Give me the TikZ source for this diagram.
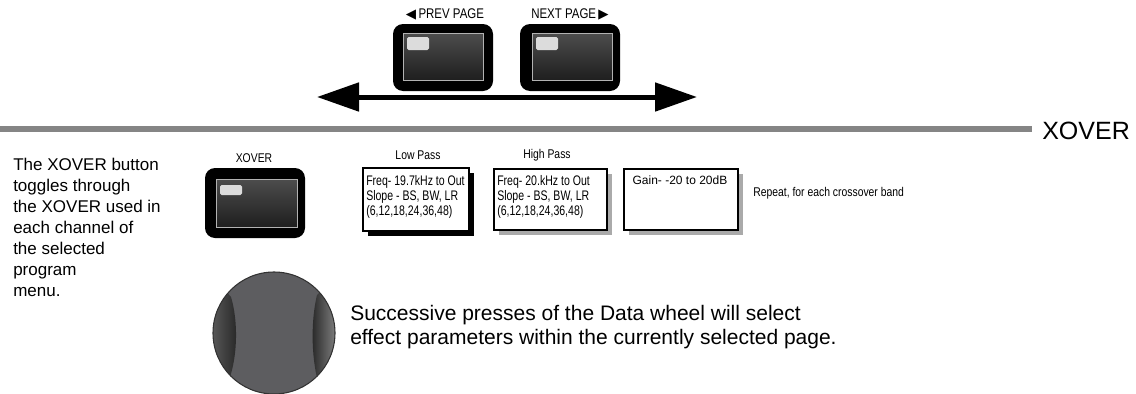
\documentclass[tikz,border=0pt]{standalone}
\usepackage{fontspec}
\setmainfont{Liberation Sans}
\newfontfamily\narrow[FakeStretch=0.82]{Liberation Sans}
\newfontfamily\boxfont[FakeStretch=0.76]{Liberation Sans}
\newfontfamily\sym{DejaVu Sans}
\usepackage{xcolor}
\definecolor{bargray}{HTML}{858585}
\definecolor{padgray}{HTML}{DCDCDC}
\definecolor{knobgray}{HTML}{5D5D60}
\definecolor{shadegray}{HTML}{AAAAAA}
\usetikzlibrary{arrows.meta}
\usetikzlibrary{calc}
\usetikzlibrary{positioning}
\usetikzlibrary{shadows}

\tikzset{
  bezel/.style={fill=black, rounded corners=7.5pt, minimum width=75pt, minimum height=50.25pt, inner sep=0pt},
  face/.style={draw=gray!60, line width=0.4pt, top color=black!70, bottom color=black!88, minimum width=60pt, minimum height=35.25pt, inner sep=0pt},
  pad/.style={fill=padgray, rounded corners=1.2pt, minimum width=16.5pt, minimum height=9.75pt, inner sep=0pt},
  btnlabel/.style={font=\narrow\fontsize{10.5pt}{12pt}\selectfont, inner sep=0pt},
  smalllabel/.style={font=\narrow\fontsize{9.5pt}{11pt}\selectfont, inner sep=0pt},
  parambox/.style={draw, line width=1.5pt, fill=white, anchor=north west, inner sep=0pt},
  boxtext/.style={font=\boxfont\fontsize{10.4pt}{11.25pt}\selectfont, align=left, anchor=north west, inner sep=0pt},
  pagearrow/.style={line width=3.75pt, {Triangle[length=31.5pt,width=21pt]}-{Triangle[length=31.5pt,width=21pt]}},
  bodytext/.style={align=left, anchor=north west, inner sep=0pt}
}

\begin{document}
\begin{tikzpicture}[x=0.75pt, y=-0.75pt] % XOVER page

      \useasboundingbox (0,0) rectangle (1136,393);

      % page buttons
      \node [bezel] (prev) at (443,57.5) {};
      \node [face] (prevface) at (443,56.5) {};
      \node [pad, below right=3pt and 3pt of prevface.north west] (prevpad) {};
      \node [bezel] (next) at (570,57.5) {};
      \node [face] (nextface) at (572,56.5) {};
      \node [pad, below right=3pt and 3pt of nextface.north west] (nextpad) {};
      \node [btnlabel] (prevlabel) at (445,14) {{\sym\fontsize{10pt}{10pt}\selectfont ◀}\,PREV PAGE};
      \node [btnlabel] (nextlabel) at (570,14) {NEXT PAGE\,{\sym\fontsize{10pt}{10pt}\selectfont ▶}};

      \coordinate (arrowl) at (317,97);
      \coordinate (arrowr) at (697,97);
      \draw [pagearrow] (arrowl) -- (arrowr);

      % title bar
      \coordinate (barl) at (0,129);
      \coordinate (barr) at (1032,129);
      \draw [bargray, line width=4.5pt] (barl) -- (barr);
      \node [anchor=west, inner sep=0pt, font=\fontsize{18.75pt}{20pt}\selectfont] (title) at (1042,131) {XOVER};

      \node [bodytext, font=\fontsize{12.75pt}{15.75pt}\selectfont] (info) at (13,158)
        {The XOVER button\\toggles through\\the XOVER used in\\each channel of\\the selected\\program\\menu.};

      % xover button
      \node [bezel, minimum height=52.5pt] (xover) at (255,203) {};
      \node [face, minimum width=60.75pt, minimum height=36pt] (xoverface) at (256.5,203) {};
      \node [pad, minimum height=7.5pt, below right=4.5pt and 3pt of xoverface.north west] (xoverpad) {};
      \node [smalllabel] (xoverlabel) at (254,158) {XOVER};

      % parameter boxes
      \node [parambox, minimum width=79.5pt, minimum height=47.25pt,
             drop shadow={shadow xshift=3.75pt, shadow yshift=-3.75pt, fill=black, opacity=1}] (lowpass) at (362,167) {};
      \node [boxtext] (lowtext) at (366,175) {Freq- 19.7kHz to Out\\Slope - BS, BW, LR\\(6,12,18,24,36,48)};
      \node [smalllabel] (lowlabel) at (418,155) {Low Pass};

      \node [parambox, minimum width=84.75pt, minimum height=45.75pt,
             drop shadow={shadow xshift=3.75pt, shadow yshift=-3.75pt, fill=shadegray, opacity=1}] (highpass) at (493,168) {};
      \node [boxtext] (hightext) at (497,175) {Freq- 20.kHz to Out\\Slope - BS, BW, LR\\(6,12,18,24,36,48)};
      \node [smalllabel] (highlabel) at (547,155) {High Pass};

      \node [parambox, minimum width=85.5pt, minimum height=45.75pt,
             drop shadow={shadow xshift=3.75pt, shadow yshift=-3.75pt, fill=shadegray, opacity=1}] (gain) at (623,168) {};
      \node [inner sep=0pt, font=\fontsize{9pt}{10pt}\selectfont] (gaintext) at (680,180) {Gain- -20 to 20dB};

      \node [smalllabel, anchor=west] (repeat) at (753,193) {Repeat, for each crossover band};

      % data wheel
      \node [circle, fill=knobgray, minimum size=91.5pt, inner sep=0pt] (knob) at (274,333) {};
      \begin{scope}
        \clip (knob.center) circle (45.75pt);
        \shade [left color=black!60, right color=black!85] (231,297) .. controls (238,320) and (238,355) .. (229,380) -- (205,398) -- (205,268) -- cycle;
        \shade [left color=black!85, right color=gray!75] (317,295) .. controls (311,320) and (311,355) .. (318,382) -- (345,398) -- (345,268) -- cycle;
      \end{scope}
      \draw [black!80, line width=0.8pt] (knob.center) circle (45.75pt);

      \node [bodytext, font=\fontsize{15.75pt}{18pt}\selectfont] (wheeltext) at (350,305)
        {Successive presses of the Data wheel will select\\effect parameters within the currently selected page.};

    \end{tikzpicture}
\end{document}
